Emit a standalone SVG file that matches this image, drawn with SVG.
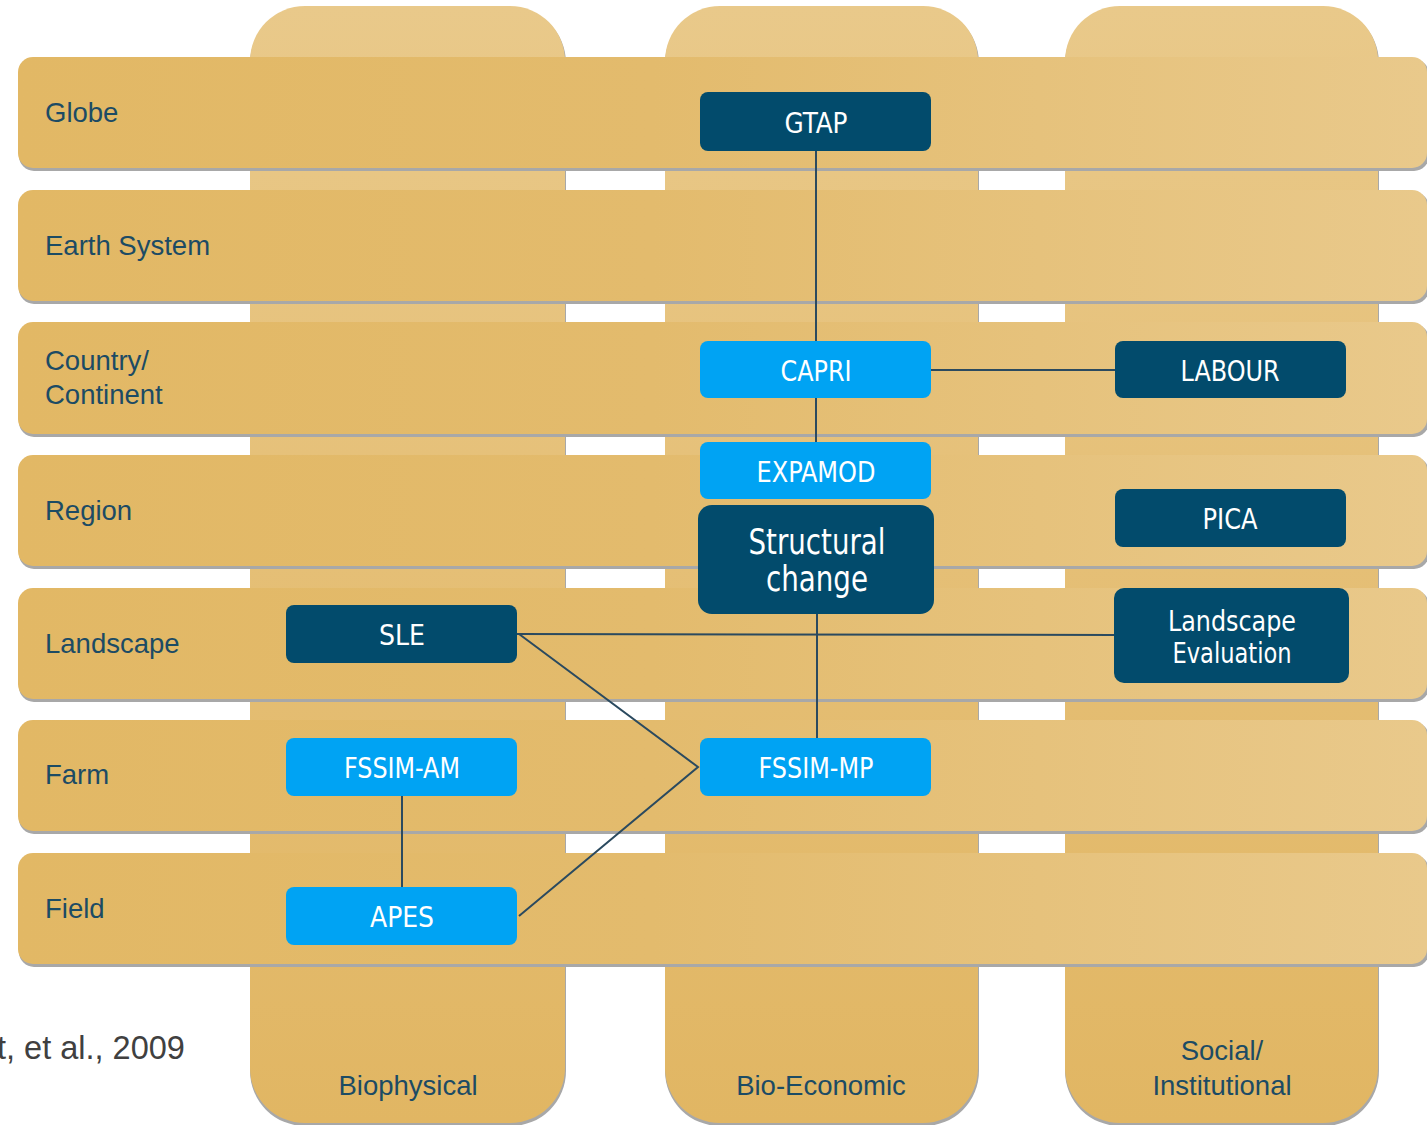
<svg xmlns="http://www.w3.org/2000/svg" width="1427" height="1125" viewBox="0 0 1427 1125">
<defs>
<linearGradient id="bandG" gradientUnits="userSpaceOnUse" x1="18" y1="0" x2="1427" y2="0">
<stop offset="0" stop-color="#e2b865"/>
<stop offset="0.45" stop-color="#e3bb6d"/>
<stop offset="1" stop-color="#e9c98b"/>
</linearGradient>
<linearGradient id="colG" x1="0" y1="0" x2="0" y2="1">
<stop offset="0" stop-color="#e9c98a"/>
<stop offset="0.5" stop-color="#e5bf76"/>
<stop offset="1" stop-color="#e1b663"/>
</linearGradient>
<style>
.shadow{fill:#a8a8a8}
.band{fill:url(#bandG)}
.col{fill:url(#colG)}
.lbl{font-family:"Liberation Sans",Arial,sans-serif;font-size:27.5px;fill:#1c4b64}
.cite{font-family:"Liberation Sans",Arial,sans-serif;font-size:32.5px;fill:#404040}
.dark{fill:#024b6c}
.light{fill:#00a3f3}
.nt{font-family:"Liberation Sans Narrow","DejaVu Sans Condensed","Liberation Sans",sans-serif;font-size:28px;fill:#ffffff;text-anchor:middle}
.big{font-size:36px}
.conn{stroke:#2b4a5f;stroke-width:2;fill:none}
</style>
</defs>
<g id="columns">
<rect class="shadow" x="250" y="8" width="316" height="1118" rx="55"/>
<rect class="col" x="250" y="6" width="315" height="1117" rx="55"/>
<rect class="shadow" x="665" y="8" width="314" height="1118" rx="55"/>
<rect class="col" x="665" y="6" width="313" height="1117" rx="55"/>
<rect class="shadow" x="1065" y="8" width="314" height="1118" rx="55"/>
<rect class="col" x="1065" y="6" width="313" height="1117" rx="55"/>
</g>
<g id="bands">
<rect class="shadow" x="19" y="59" width="1410" height="112" rx="15"/>
<rect class="band" x="18" y="57" width="1409" height="111" rx="15"/>
<rect class="shadow" x="19" y="192" width="1410" height="112" rx="15"/>
<rect class="band" x="18" y="190" width="1409" height="111" rx="15"/>
<rect class="shadow" x="19" y="324" width="1410" height="113" rx="15"/>
<rect class="band" x="18" y="322" width="1409" height="112" rx="15"/>
<rect class="shadow" x="19" y="457" width="1410" height="112" rx="15"/>
<rect class="band" x="18" y="455" width="1409" height="111" rx="15"/>
<rect class="shadow" x="19" y="590" width="1410" height="112" rx="15"/>
<rect class="band" x="18" y="588" width="1409" height="111" rx="15"/>
<rect class="shadow" x="19" y="722" width="1410" height="112" rx="15"/>
<rect class="band" x="18" y="720" width="1409" height="111" rx="15"/>
<rect class="shadow" x="19" y="855" width="1410" height="112" rx="15"/>
<rect class="band" x="18" y="853" width="1409" height="111" rx="15"/>
</g>
<g id="labels">
<text class="lbl" x="45" y="122">Globe</text>
<text class="lbl" x="45" y="255">Earth System</text>
<text class="lbl" x="45" y="370">Country/</text>
<text class="lbl" x="45" y="404">Continent</text>
<text class="lbl" x="45" y="520">Region</text>
<text class="lbl" x="45" y="653">Landscape</text>
<text class="lbl" x="45" y="784">Farm</text>
<text class="lbl" x="45" y="918">Field</text>
<text class="lbl" x="408" y="1095" text-anchor="middle">Biophysical</text>
<text class="lbl" x="821" y="1095" text-anchor="middle">Bio-Economic</text>
<text class="lbl" x="1222" y="1060" text-anchor="middle">Social/</text>
<text class="lbl" x="1222" y="1095" text-anchor="middle">Institutional</text>
<text class="cite" x="-3" y="1059">t, et al., 2009</text>
</g>
<g id="connectors">
<line class="conn" x1="816" y1="151" x2="816" y2="341"/>
<line class="conn" x1="931" y1="370" x2="1115" y2="370"/>
<line class="conn" x1="816" y1="398" x2="816" y2="442"/>
<line class="conn" x1="817" y1="614" x2="817" y2="738"/>
<line class="conn" x1="517" y1="634" x2="1114" y2="635"/>
<polyline class="conn" points="519,634 698,767 519,916"/>
<line class="conn" x1="402" y1="796" x2="402" y2="887"/>
</g>
<g id="GTAP"><rect class="dark" x="700" y="92" width="231" height="59" rx="8"/><text class="nt" x="816" y="133" textLength="63" lengthAdjust="spacingAndGlyphs">GTAP</text></g>
<g id="CAPRI"><rect class="light" x="700" y="341" width="231" height="57" rx="8"/><text class="nt" x="816" y="381" textLength="71" lengthAdjust="spacingAndGlyphs">CAPRI</text></g>
<g id="LABOUR"><rect class="dark" x="1115" y="341" width="231" height="57" rx="8"/><text class="nt" x="1230" y="381" textLength="99" lengthAdjust="spacingAndGlyphs">LABOUR</text></g>
<g id="EXPAMOD"><rect class="light" x="700" y="442" width="231" height="57" rx="8"/><text class="nt" x="816" y="482" textLength="119" lengthAdjust="spacingAndGlyphs">EXPAMOD</text></g>
<g id="Structural"><rect class="dark" x="698" y="505" width="236" height="109" rx="14"/><text class="nt big" x="817" y="554" textLength="137" lengthAdjust="spacingAndGlyphs">Structural</text><text class="nt big" x="817" y="591" textLength="102" lengthAdjust="spacingAndGlyphs">change</text></g>
<g id="PICA"><rect class="dark" x="1115" y="489" width="231" height="58" rx="8"/><text class="nt" x="1230" y="529" textLength="55" lengthAdjust="spacingAndGlyphs">PICA</text></g>
<g id="SLE"><rect class="dark" x="286" y="605" width="231" height="58" rx="8"/><text class="nt" x="402" y="645" textLength="46" lengthAdjust="spacingAndGlyphs">SLE</text></g>
<g id="LandscapeEvaluation"><rect class="dark" x="1114" y="588" width="235" height="95" rx="10"/><text class="nt" x="1232" y="631" textLength="128" lengthAdjust="spacingAndGlyphs">Landscape</text><text class="nt" x="1232" y="663" textLength="119" lengthAdjust="spacingAndGlyphs">Evaluation</text></g>
<g id="FSSIM-AM"><rect class="light" x="286" y="738" width="231" height="58" rx="8"/><text class="nt" x="402" y="778" textLength="116" lengthAdjust="spacingAndGlyphs">FSSIM-AM</text></g>
<g id="FSSIM-MP"><rect class="light" x="700" y="738" width="231" height="58" rx="8"/><text class="nt" x="816" y="778" textLength="115" lengthAdjust="spacingAndGlyphs">FSSIM-MP</text></g>
<g id="APES"><rect class="light" x="286" y="887" width="231" height="58" rx="8"/><text class="nt" x="402" y="927" textLength="64" lengthAdjust="spacingAndGlyphs">APES</text></g>
</svg>
